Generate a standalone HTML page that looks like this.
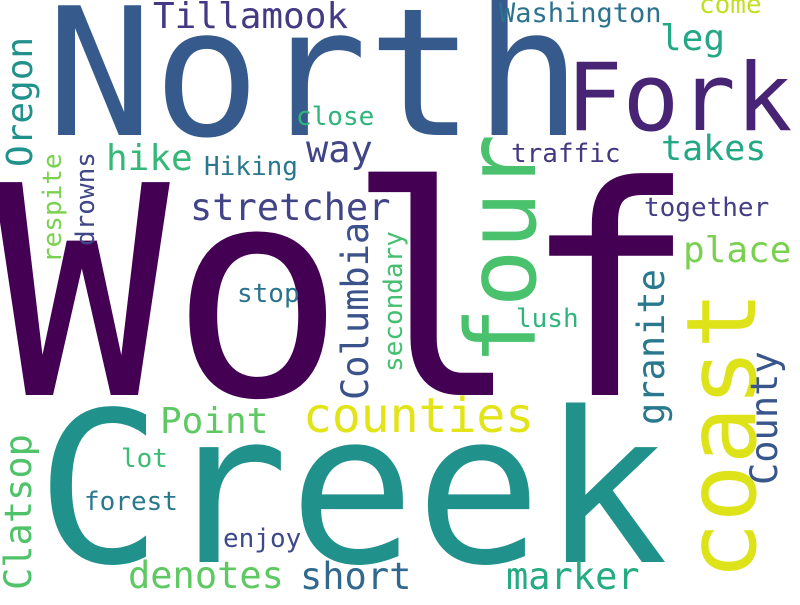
<!DOCTYPE html>
<html><head><meta charset="utf-8"><style>
html,body{margin:0;padding:0;background:#fff;}
svg text{font-family:"DejaVu Sans Mono","Liberation Mono",monospace;}
</style></head><body>
<svg width="800" height="600" viewBox="0 0 800 600" xmlns="http://www.w3.org/2000/svg">
<rect width="800" height="600" fill="#fff"/>
<text x="-6" y="395" font-size="292" fill="#440154">Wolf</text>
<text x="46" y="135" font-size="178" fill="#375a8c">North</text>
<text x="36" y="562" font-size="210" fill="#21918c">Creek</text>
<text x="566" y="130" font-size="94" fill="#482475">Fork</text>
<text x="153" y="28" font-size="36" fill="#443a83">Tillamook</text>
<text x="296" y="125" font-size="26" fill="#2fb47c">close</text>
<text x="306" y="162" font-size="37" fill="#414487">way</text>
<text x="106" y="170" font-size="36" fill="#35b779">hike</text>
<text x="204" y="175" font-size="26" fill="#2a788e">Hiking</text>
<text x="190" y="220" font-size="37" fill="#414487">stretcher</text>
<text x="511" y="162" font-size="26" fill="#453781">traffic</text>
<text x="661" y="160" font-size="35" fill="#22a884">takes</text>
<text x="644" y="216" font-size="26" fill="#433e85">together</text>
<text x="683" y="262" font-size="36" fill="#7ad151">place</text>
<text x="516" y="327" font-size="26" fill="#2fb47c">lush</text>
<text x="303" y="432" font-size="48" fill="#e2e418">counties</text>
<text x="160" y="433" font-size="36" fill="#5ec962">Point</text>
<text x="506" y="589" font-size="37" fill="#25ab82">marker</text>
<text x="300" y="589" font-size="37" fill="#31688e">short</text>
<text x="128" y="588" font-size="37" fill="#5ec962">denotes</text>
<text x="223" y="547" font-size="26" fill="#3e4989">enjoy</text>
<text x="84" y="510" font-size="26" fill="#2a788e">forest</text>
<text x="121" y="467" font-size="26" fill="#3dbc74">lot</text>
<text x="499" y="22" font-size="27" fill="#2c728e">Washington</text>
<text x="699" y="13" font-size="26" fill="#c2df23">come</text>
<text x="660" y="50" font-size="36" fill="#22a884">leg</text>
<text x="237" y="302" font-size="26" fill="#2c728e">stop</text>
<text transform="translate(535,365) rotate(-90)" font-size="96" fill="#4ac16d">four</text>
<text transform="translate(755,580) rotate(-90)" font-size="96" fill="#dde318">coast</text>
<text transform="translate(777,485) rotate(-90)" font-size="37" fill="#39568c">County</text>
<text transform="translate(664,425) rotate(-90)" font-size="37" fill="#2a788e">granite</text>
<text transform="translate(402,372) rotate(-90)" font-size="26" fill="#44bf70">secondary</text>
<text transform="translate(368,400) rotate(-90)" font-size="37" fill="#3b528b">Columbia</text>
<text transform="translate(32,167) rotate(-90)" font-size="36" fill="#21918c">Oregon</text>
<text transform="translate(61,263) rotate(-90)" font-size="26" fill="#7ad151">respite</text>
<text transform="translate(94,246) rotate(-90)" font-size="26" fill="#3f4788">drowns</text>
<text transform="translate(31,590) rotate(-90)" font-size="37" fill="#4fc26a">Clatsop</text>
</svg>
</body></html>
